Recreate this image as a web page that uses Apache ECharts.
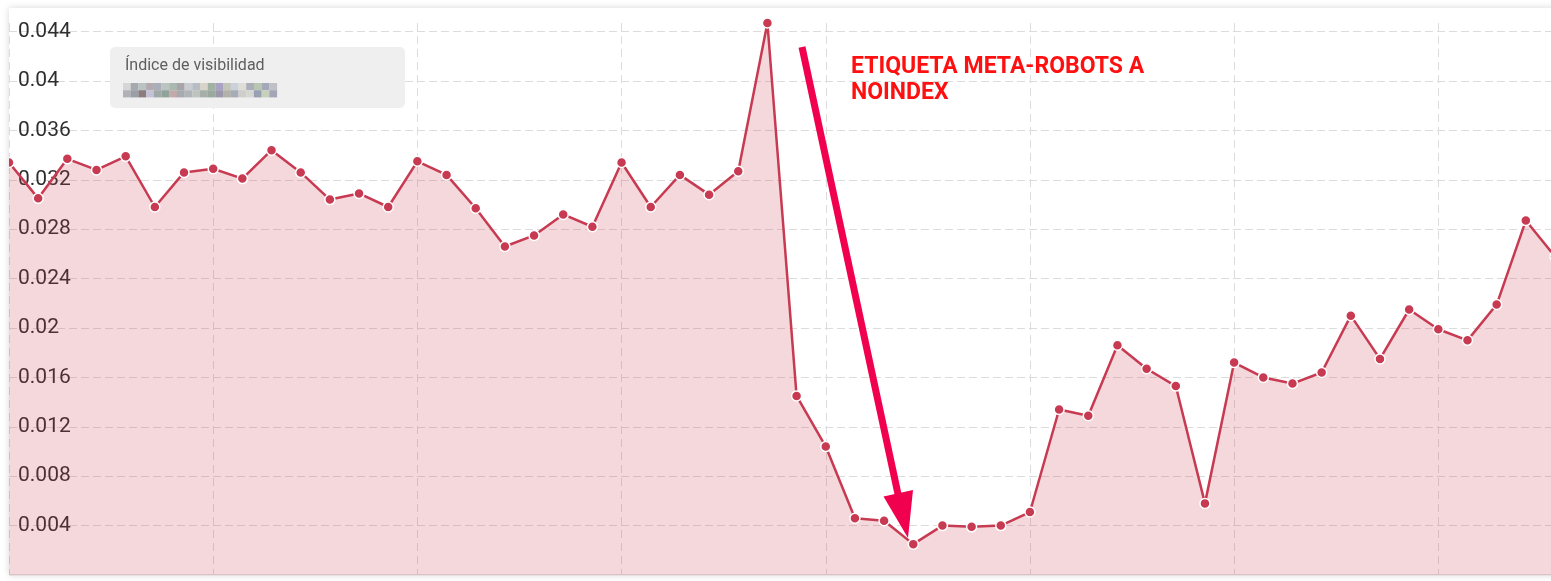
<!DOCTYPE html>
<html>
<head>
<meta charset="utf-8">
<script src="https://cdn.jsdelivr.net/npm/echarts@6/dist/echarts.min.js"></script>
<style>
  html, body { margin: 0; padding: 0; width: 1551px; height: 581px; overflow: hidden; background: #fff; }
  #card {
    position: absolute; left: 9px; top: 8px; width: 1600px; height: 567px;
    background: #fff; box-shadow: 0 0 7px rgba(0, 0, 0, 0.16);
  }
  #chart { position: absolute; left: 9px; top: 0; width: 1546px; height: 581px; }
</style>
</head>
<body>
<div id="card"></div>
<div id="chart"></div>
<script>
// semanas (las fechas no se ven en la captura)
const weeks = Array.from({ length: 54 }, (_, i) => 'S' + (i + 1))

// índice de visibilidad semanal
const visibility = [
  0.0334, 0.0305, 0.0337, 0.0328, 0.0339, 0.0298, 0.0326, 0.0329, 0.0321, 0.0344,
  0.0326, 0.0304, 0.0309, 0.0298, 0.0335, 0.0324, 0.0297, 0.0266, 0.0275, 0.0292,
  0.0282, 0.0334, 0.0298, 0.0324, 0.0308, 0.0327, 0.0447, 0.0145, 0.0104, 0.0046,
  0.0044, 0.0025, 0.0040, 0.0039, 0.0040, 0.0051, 0.0134, 0.0129, 0.0186, 0.0167,
  0.0153, 0.0058, 0.0172, 0.0160, 0.0155, 0.0164, 0.0210, 0.0175, 0.0215, 0.0199,
  0.0190, 0.0219, 0.0287, 0.0258
]

const seriesName = 'Índice de visibilidad'
const noteLines = ['ETIQUETA META-ROBOTS A', 'NOINDEX']

// colores del dominio pixelado en la leyenda
const mosaicTop = ['#d6d6d8', '#a6a9b0', '#b9c3c2', '#b3aab0', '#aaaeb9', '#bcc4c2', '#a9b8b1', '#a8a4a9', '#c9cdd2', '#b6bdc5',
  '#d9d4c9', '#a2b2a2', '#aaa2c2', '#c2c6ba', '#cad1d9', '#e0dcd8', '#aaaeb9', '#bac6b2', '#a3a9b9', '#c0c0c6']
const mosaicBottom = ['#b2b2b6', '#9a9ea6', '#8c7c7e', '#c4c2d6', '#a0a8a8', '#8fa39b', '#c2a9aa', '#a5abb1', '#b0b6b8', '#bfc3c0',
  '#a6b0a8', '#9aa9a0', '#9c98ac', '#b2b2aa', '#a6abb8', '#d0ceca', '#d6d6d2', '#98a0b4', '#c8d0bc', '#a2a6b6']

const chart = echarts.init(document.getElementById('chart'))

const mosaic = []
mosaicTop.forEach((c, i) => mosaic.push({ type: 'rect', z: 11, shape: { x: 114 + i * 7.7, y: 83, width: 7.8, height: 7.2 }, style: { fill: c } }))
mosaicBottom.forEach((c, i) => mosaic.push({ type: 'rect', z: 11, shape: { x: 114 + i * 7.7, y: 90.2, width: 7.8, height: 7.2 }, style: { fill: c } }))

chart.setOption({
  animation: false,
  grid: { left: 0, right: 0, top: 23, bottom: 6 },
  xAxis: {
    type: 'category',
    data: weeks,
    boundaryGap: false,
    axisLine: { show: true, lineStyle: { color: '#e3e3e3', width: 2 } },
    axisTick: { show: false },
    axisLabel: { show: false },
    splitLine: {
      show: true,
      interval: 6,
      lineStyle: { color: '#dcdcdc', type: [8, 5], width: 1 }
    }
  },
  yAxis: {
    type: 'value',
    min: 0,
    max: 'dataMax',
    interval: 0.004,
    axisLine: { show: false },
    axisTick: { show: false },
    axisLabel: {
      inside: true,
      margin: 9,
      showMinLabel: false,
      showMaxLabel: false,
      color: '#2e2e2e',
      fontFamily: 'Roboto',
      fontSize: 21
    },
    splitLine: {
      showMinLine: false,
      showMaxLine: false,
      lineStyle: { color: '#dcdcdc', type: [8, 4], width: 1 }
    }
  },
  series: [
    {
      name: seriesName,
      type: 'line',
      data: visibility,
      clip: false,
      symbol: 'circle',
      symbolSize: 10,
      lineStyle: { color: '#c73a52', width: 2.5 },
      itemStyle: { color: '#c73a52', borderColor: '#fff', borderWidth: 1.5 },
      areaStyle: { color: '#c73a52', opacity: 0.2 },
      z: 3
    }
  ],
  graphic: [
    // caja de leyenda
    {
      type: 'rect',
      shape: { x: 101, y: 47, width: 295, height: 61, r: 5 },
      style: { fill: '#efefef' },
      z: 10
    },
    {
      type: 'text',
      x: 116, y: 66,
      style: { text: seriesName, fill: '#5e5e5e', font: '16px Roboto', verticalAlign: 'middle' },
      z: 11
    },
    { type: 'group', z: 11, children: mosaic },
    // anotación
    {
      type: 'text',
      x: 842, y: 54,
      style: {
        text: noteLines.join('\n'),
        fill: '#ff1010',
        font: 'bold 23px Roboto',
        lineHeight: 26
      },
      z: 12
    },
    {
      type: 'line',
      shape: { x1: 793, y1: 47, x2: 889, y2: 494 },
      style: { stroke: '#f0004f', lineWidth: 7 },
      z: 12
    },
    {
      type: 'polygon',
      shape: { points: [[899, 538], [874.5, 496.5], [904, 490]] },
      style: { fill: '#f0004f' },
      z: 12
    }
  ]
})
</script>
</body>
</html>
